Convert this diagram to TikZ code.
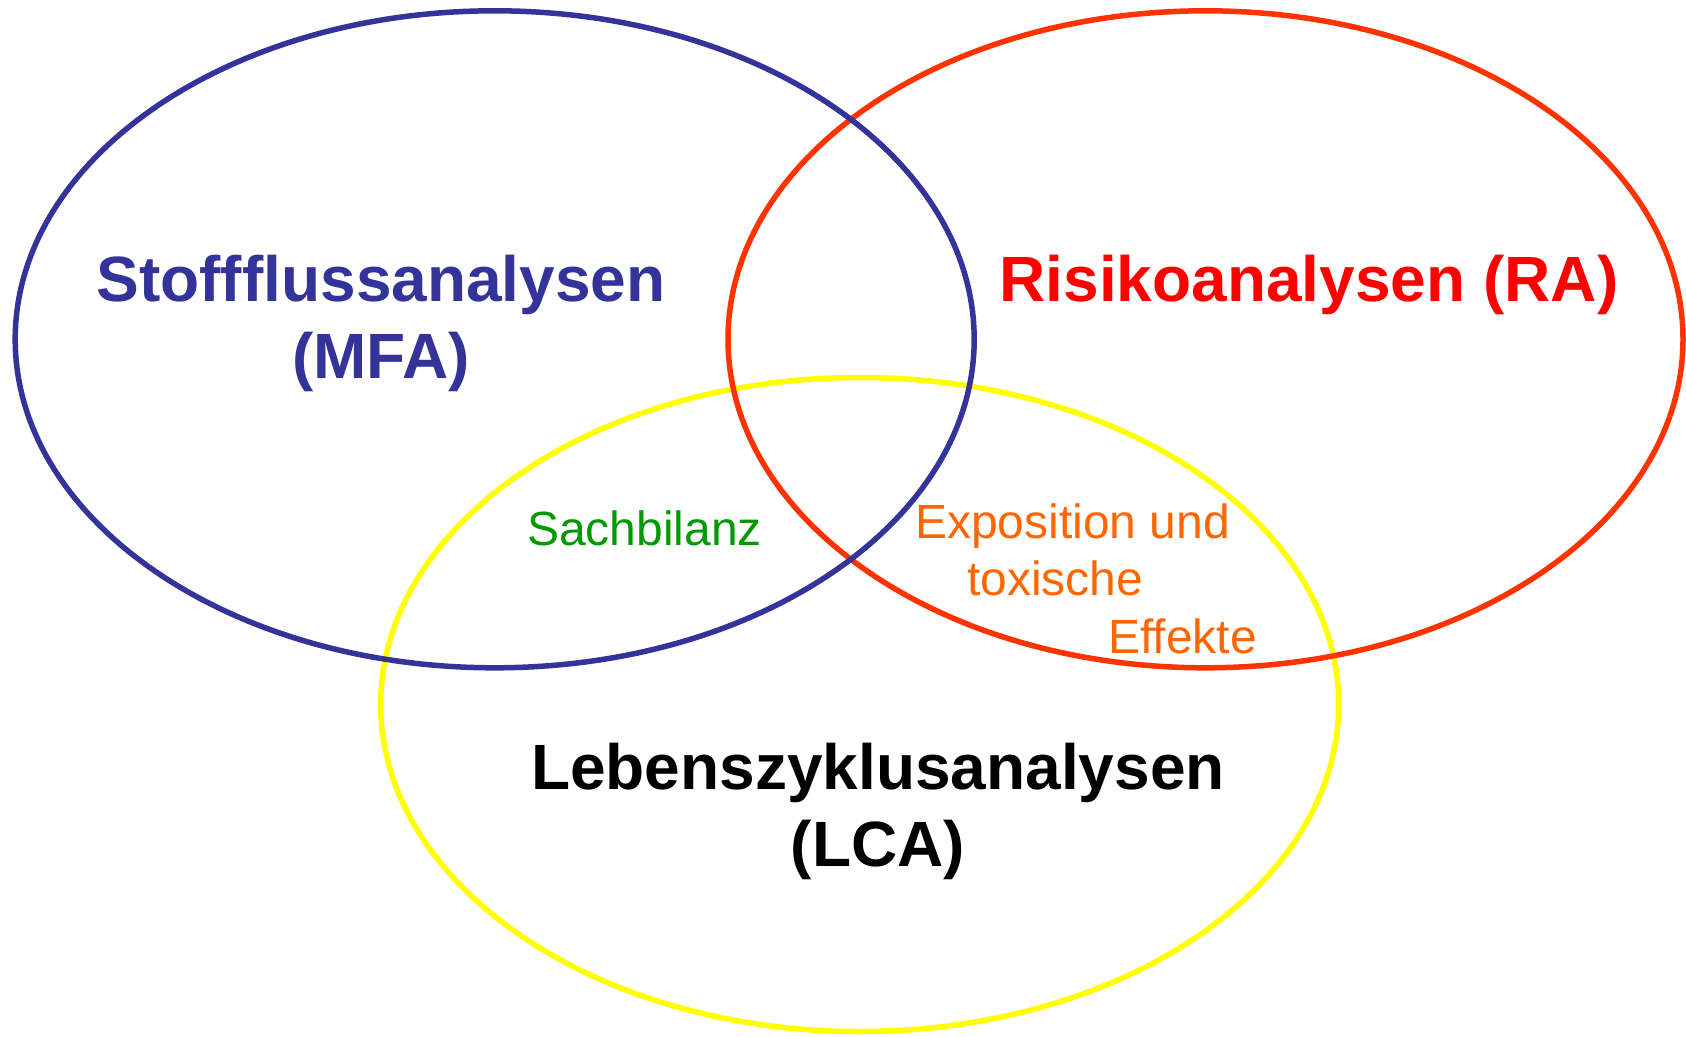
\documentclass[tikz,border=0pt]{standalone}
\usepackage{fontspec}
\setmainfont{Liberation Sans}
\definecolor{mfablue}{HTML}{333399}
\definecolor{rared}{HTML}{FF3300}
\definecolor{ratext}{HTML}{FF0000}
\definecolor{lcayellow}{HTML}{FFFF00}
\definecolor{sachgreen}{HTML}{009900}
\definecolor{exporange}{HTML}{FF6600}
\tikzset{
  ring/.style={line width=5.5pt},
  bigtitle/.style={inner sep=0pt, anchor=base, font=\fontsize{64pt}{77pt}\selectfont\bfseries},
  smalllabel/.style={inner sep=0pt, anchor=base west, font=\fontsize{48pt}{57pt}\selectfont}
}
\begin{document}
\begin{tikzpicture}[x=1pt,y=-1pt]
\useasboundingbox (0,0) rectangle (1686,1036);
\fill[white] (0,0) rectangle (1686,1036);
% circles
\draw[ring, lcayellow] (859.7,704.5) ellipse [x radius=479pt, y radius=327pt];
\draw[ring, rared] (1205.5,339.3) ellipse [x radius=477.5pt, y radius=328.5pt];
\draw[ring, mfablue] (494.7,339.3) ellipse [x radius=479.5pt, y radius=328.5pt];
% titles
\node[bigtitle, text=mfablue] (mfa1) at (381,301) {Stoffflussanalysen};
\node[bigtitle, text=mfablue] (mfa2) at (381,378) {(MFA)};
\node[bigtitle, text=ratext] (ra) at (1309,301) {Risikoanalysen (RA)};
\node[bigtitle, text=black] (lca1) at (878,789) {Lebenszyklusanalysen};
\node[bigtitle, text=black] (lca2) at (878,866) {(LCA)};
% overlap labels
\node[smalllabel, text=sachgreen] (sach) at (527,545) {Sachbilanz};
\node[smalllabel, text=exporange] (exp1) at (915,538) {Exposition und};
\node[smalllabel, text=exporange] (exp2) at (967,595) {toxische};
\node[smalllabel, text=exporange] (exp3) at (1108,653) {Effekte};
\end{tikzpicture}
\end{document}
